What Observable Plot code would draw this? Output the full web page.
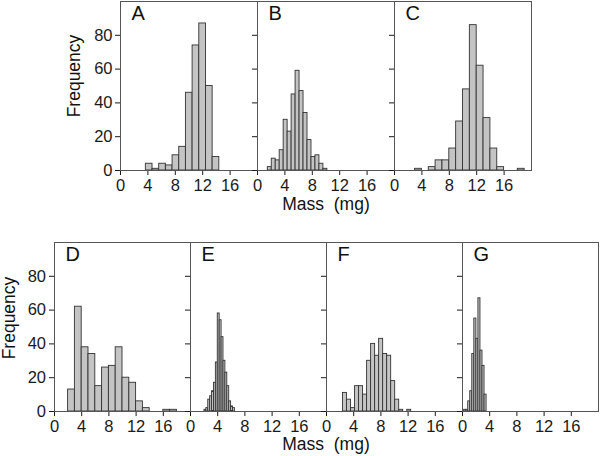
<!DOCTYPE html>
<html><head><meta charset="utf-8">
<script src="https://cdn.jsdelivr.net/npm/d3@7"></script>
<script src="https://cdn.jsdelivr.net/npm/@observablehq/plot@0.6"></script>
<style>
body{margin:0;background:#fff;font-family:"Liberation Sans",Arial,Helvetica,sans-serif;}
#chart{position:relative;width:600px;height:456px;overflow:hidden;background:#fff;}
.lbl{position:absolute;font-size:17.5px;color:#111;white-space:pre;line-height:1;}
</style></head><body><div id="chart"></div>
<script>
// Panel letters
const lettersTop = ["A", "B", "C"];
const lettersBottom = ["D", "E", "F", "G"];
// Tick values
const xTicks = [0, 4, 8, 12, 16];
const yTicks = [0, 20, 40, 60, 80];
// Histogram bins: first bin lower edge, bin width, counts
const startA = 3.7,  widthA = 0.975, countsA = [4, 1, 4, 3, 9, 14, 46, 74, 87, 50, 8];
const startB = 1.5,  widthB = 0.58,  countsB = [2, 7, 6, 12, 30, 23, 45, 59, 47, 34, 18, 8, 9, 4, 1];
const startC = 3,    widthC = 1,     countsC = [1, 0, 2, 6, 6, 13, 29, 48, 86, 62, 31, 13, 2, 0, 0, 1];
const startD = 2,    widthD = 1,     countsD = [13, 62, 38, 34, 15, 26, 27, 38, 20, 17, 6, 2, 0, 0, 1, 1];
const startE = 2.05, widthE = 0.28,  countsE = [1, 2, 7, 9, 12, 17, 29, 58, 54, 44, 30, 23, 15, 6, 3, 2];
const startF = 2.43, widthF = 0.59,  countsF = [11, 7, 2, 15, 15, 10, 30, 40, 33, 43, 34, 33, 18, 7, 1, 0, 1];
const startG = 0.24, widthG = 0.3,   countsG = [1, 1, 6, 12, 34, 55, 43, 67, 36, 27, 10];
const xLabel = "Mass  (mg)";
const yLabel = "Frequency";

const chart = document.getElementById("chart");
const FONT = '"Liberation Sans", Arial, Helvetica, sans-serif';

function panel(letter, counts, start, width, left, top, plotW, plotH, first, tickPad) {
  const data = counts.map((c, i) => ({x1: start + i * width, x2: start + (i + 1) * width, n: c}))
                     .filter(d => d.n > 0);
  const mL = first ? left : 10;
  const svg = Plot.plot({
    width: mL + plotW + 2,
    height: 1 + plotH + 26,
    marginLeft: mL, marginRight: 2, marginTop: 1, marginBottom: 26,
    style: {background: "none", overflow: "visible", fontFamily: FONT, fontSize: "16.5px", color: "#1a1a1a"},
    x: {domain: [0, 20], ticks: xTicks, tickSize: 5, tickPadding: 4, label: null},
    y: {domain: [0, 100], ticks: yTicks, tickSize: 5, tickPadding: tickPad, label: null,
        tickFormat: first ? (d => String(d)) : (() => "")},
    marks: [
      Plot.rectY(data, {x1: "x1", x2: "x2", y: "n", fill: "#c4c4c4", stroke: "#333", strokeWidth: 0.9}),
      Plot.frame({stroke: "#555"}),
      Plot.text([letter], {text: d => d, frameAnchor: "top-left", dx: 11, dy: 4, lineAnchor: "top",
        textAnchor: "start", fontSize: 20, fill: "#111", fontFamily: FONT})
    ]
  });
  svg.style.position = "absolute";
  svg.style.left = (left - mL) + "px";
  svg.style.top = (top - 1) + "px";
  chart.appendChild(svg);
}

const topLefts = [120, 257, 394];
const topData = [[countsA, startA, widthA], [countsB, startB, widthB], [countsC, startC, widthC]];
lettersTop.forEach((L, i) => panel(L, topData[i][0], topData[i][1], topData[i][2], topLefts[i], 1, 137, 169, i === 0, 3));

const botLefts = [54, 190, 326, 462];
const botData = [[countsD, startD, widthD], [countsE, startE, widthE], [countsF, startF, widthF], [countsG, startG, widthG]];
lettersBottom.forEach((L, i) => panel(L, botData[i][0], botData[i][1], botData[i][2], botLefts[i], 242, 136, 169, i === 0, 3.5));

function label(text, x, y, rotate) {
  const d = document.createElement("div");
  d.className = "lbl";
  d.textContent = text;
  d.style.left = x + "px";
  d.style.top = y + "px";
  d.style.transform = "translate(-50%,-50%)" + (rotate ? " rotate(-90deg)" : "");
  chart.appendChild(d);
}
label(yLabel, 75, 76, true);
label(yLabel, 10, 317.5, true);
label(xLabel, 326, 205, false);
label(xLabel, 326, 445, false);
</script></body></html>
